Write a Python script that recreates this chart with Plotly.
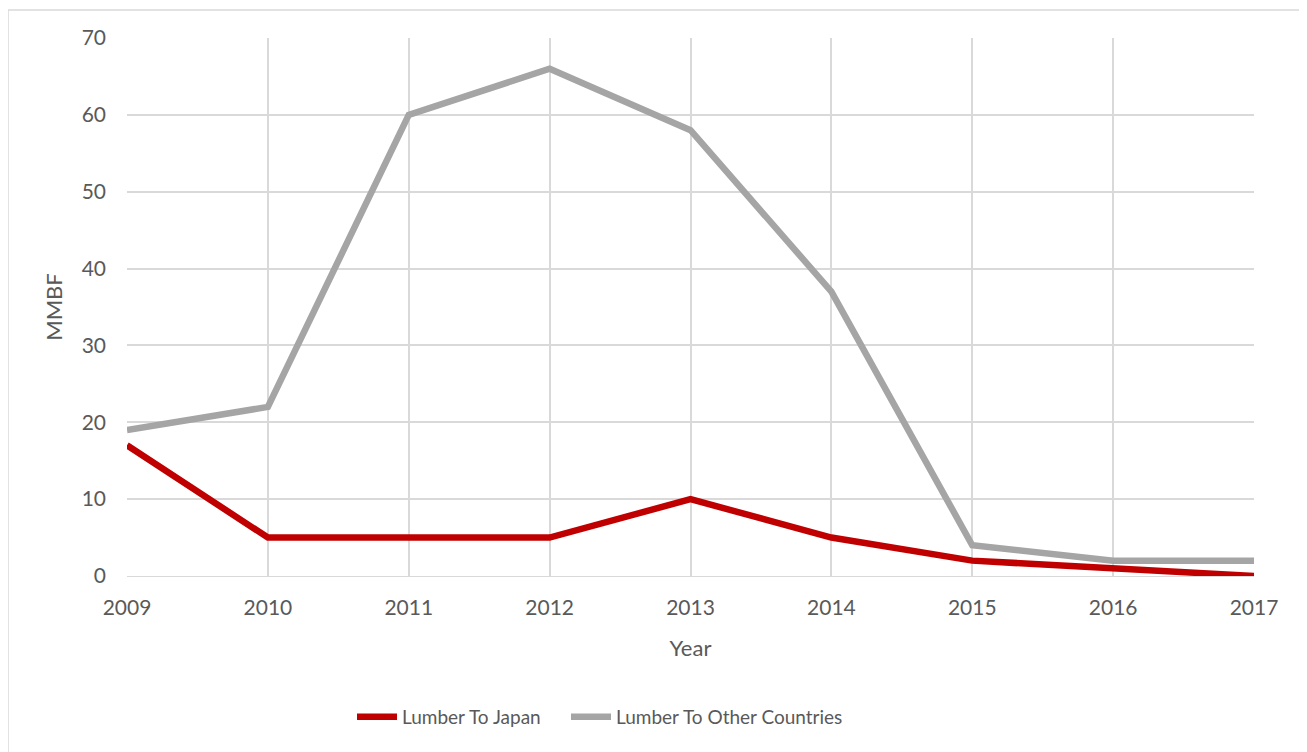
import plotly.graph_objects as go

years = [2009, 2010, 2011, 2012, 2013, 2014, 2015, 2016, 2017]
lumber_japan = [17, 5, 5, 5, 10, 5, 2, 1, 0]
lumber_other = [19, 22, 60, 66, 58, 37, 4, 2, 2]
y_ticks = [0, 10, 20, 30, 40, 50, 60, 70]

font_family = "Lato"
text_color = "#595959"
grid_color = "#D9D9D9"

# page has an 8px body margin, so the figure is a bit smaller than the window
W, H = 1299, 744
L, R, T, B = 119, 53, 30, 176
pw, ph = W - L - R, H - T - B

fig = go.Figure()
fig.add_trace(go.Scatter(x=years, y=lumber_japan, mode="lines", name="Lumber To Japan",
                         line=dict(color="#C00000", width=6.5), legend="legend"))
fig.add_trace(go.Scatter(x=years, y=lumber_other, mode="lines", name="Lumber To Other Countries",
                         line=dict(color="#A5A5A5", width=6.5), legend="legend2"))

legend_style = dict(orientation="h", xanchor="left", yanchor="middle",
                    y=-(709 - 568) / ph, font=dict(size=19, color=text_color),
                    itemwidth=40, bgcolor="rgba(0,0,0,0)")

fig.update_layout(
    width=W, height=H,
    margin=dict(l=L, r=R, t=T, b=B),
    paper_bgcolor="white", plot_bgcolor="white",
    font=dict(family=font_family, size=21, color=text_color),
    showlegend=True,
    legend=dict(x=(352 - 8 - L) / pw, **legend_style),
    legend2=dict(x=(566 - 8 - L) / pw, **legend_style),
    shapes=[dict(type="rect", xref="paper", yref="paper",
                 x0=(0 - L) / pw, x1=(1297 - L) / pw,
                 y0=(568 - 760) / ph, y1=(568 - 2) / ph,
                 line=dict(color=grid_color, width=1.5), layer="below")],
)
fig.update_xaxes(range=[2009, 2017], tickvals=years, showgrid=True, gridcolor=grid_color,
                 gridwidth=1.5, zeroline=False, showline=True, linecolor=grid_color,
                 ticks="", ticklabelstandoff=13,
                 title=dict(text="Year", font=dict(size=22, color=text_color), standoff=22))
fig.update_yaxes(range=[0, 70], tickvals=y_ticks, showgrid=True, gridcolor=grid_color,
                 gridwidth=1.5, zeroline=False, showline=False, ticks="", ticklabelstandoff=20,
                 title=dict(text="MMBF", font=dict(size=22, color=text_color), standoff=12))

fig.write_html("out.html")
